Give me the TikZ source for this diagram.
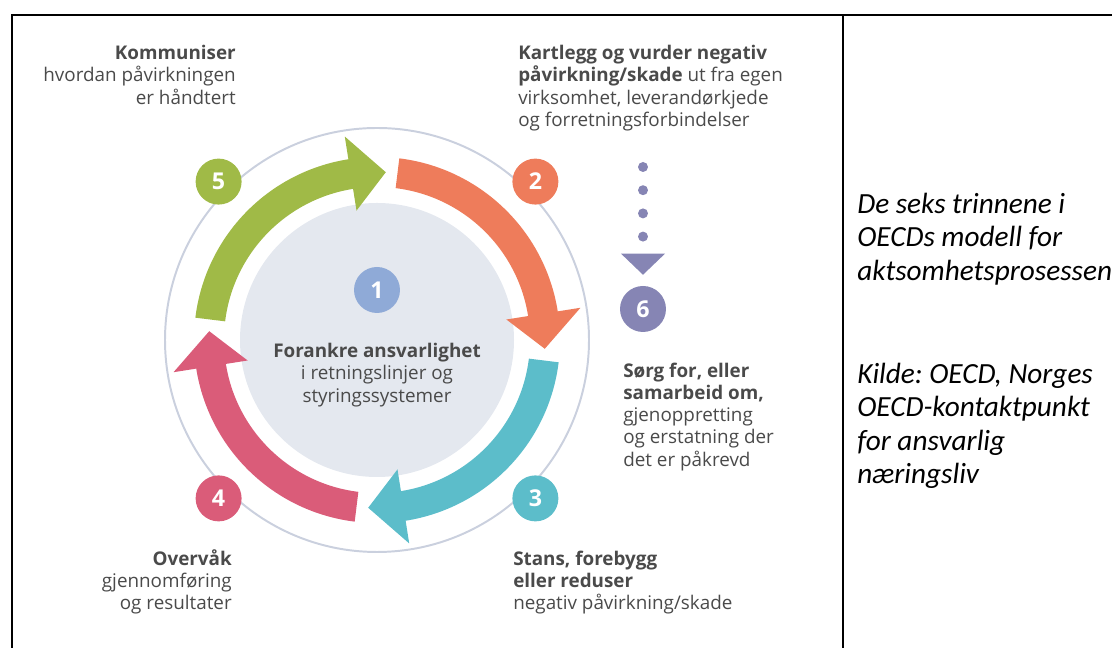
\documentclass[tikz,border=0pt]{standalone}
\usepackage{fontspec}
\setmainfont{Open Sans}
\newfontfamily\notefont{Carlito}
\usetikzlibrary{arrows.meta, positioning, calc}
\frenchspacing

\definecolor{stepgreen}{HTML}{A0BA47}
\definecolor{steporange}{HTML}{EE7C5B}
\definecolor{stepteal}{HTML}{5CBDCA}
\definecolor{steppink}{HTML}{DA5C79}
\definecolor{stepblue}{HTML}{8FAAD7}
\definecolor{steppurple}{HTML}{8685B4}
\definecolor{ringgray}{HTML}{CAD0DE}
\definecolor{diskgray}{HTML}{E4E8EF}
\definecolor{txtgray}{HTML}{4A4A4A}

\begin{document}
\begin{tikzpicture}[x=0.025cm, y=0.025cm,
    every node/.style={font=\fontsize{13.4}{15.8}\selectfont, text=txtgray, inner sep=0pt},
    stepnum/.style={circle, minimum size=32.7pt, text=white, font=\fontsize{16.5}{18}\selectfont\bfseries},
    notetext/.style={font=\notefont\itshape\fontsize{20.8}{23.75}\selectfont, text=black, align=left},
    sixline/.style={steppurple, line width=7.1pt, line cap=round, dash pattern=on 0pt off 16.5pt,
        shorten >=7.8pt, -{Triangle[width=31.3pt, length=15pt, line width=0pt]}}]
    \useasboundingbox (0,0) rectangle (1112,648);

    \draw[line width=1.4pt] (12,0) -- (12,633) -- (1114,633);
    \draw[line width=1.4pt] (843,633) -- (843,0);

    \begin{scope}[shift={(377,308)}]
        \draw[ringgray, line width=1.4pt] (0,0) circle[radius=212];
        \fill[diskgray] (0,0) circle[radius=137];
        \foreach \a/\c in {173/stepgreen, 83/steporange, -7/stepteal, -97/steppink}
            \fill[\c] (\a:183) arc[start angle=\a, end angle=\a-74, radius=183]
                -- (\a-74:206) -- (\a-86:168) -- (\a-74:131)
                -- (\a-74:153) arc[start angle=\a-74, end angle=\a, radius=153] -- cycle;

        \node[stepnum, fill=stepblue] (n1) at (0,50) {1};
        \node[stepnum, fill=steporange] (n2) at (45:224) {2};
        \node[stepnum, fill=stepteal] (n3) at (-45:224) {3};
        \node[stepnum, fill=steppink] (n4) at (-135:224) {4};
        \node[stepnum, fill=stepgreen] (n5) at (135:224) {5};
    \end{scope}
    \node[stepnum, fill=steppurple] (n6) at (643,339) {6};
    \coordinate (dtop) at (643,481);
    \draw[sixline] (dtop) -- (n6);

    \node[align=center, anchor=north] (core) at (377,305)
        {\textbf{Forankre ansvarlighet}\\i retningslinjer og\\styringssystemer};
    \node[align=right, anchor=north east] (t5) at (236,603)
        {\textbf{Kommuniser}\\hvordan påvirkningen\\er håndtert};
    \node[align=left, anchor=north west] (t2) at (518,603)
        {\textbf{Kartlegg og vurder negativ}\\\textbf{påvirkning/skade} ut fra egen\\virksomhet, leverandørkjede\\og forretningsforbindelser};
    \node[align=left, anchor=north west] (t6) at (623,285.5)
        {\textbf{Sørg for, eller}\\\textbf{samarbeid om,}\\gjenoppretting\\og erstatning der\\det er påkrevd};
    \node[align=left, anchor=north west] (t3) at (513,97.5)
        {\textbf{Stans, forebygg}\\\textbf{eller reduser}\\negativ påvirkning/skade};
    \node[align=right, anchor=north east] (t4) at (232,98.5)
        {\textbf{Overvåk}\\gjennomføring\\og resultater};

    \node[notetext, anchor=north west] (note) at (857,455)
        {De seks trinnene i\\OECDs modell for\\aktsomhetsprosessen\\[49.5pt]Kilde: OECD, Norges\\OECD-kontaktpunkt\\for ansvarlig\\næringsliv};
\end{tikzpicture}
\end{document}
